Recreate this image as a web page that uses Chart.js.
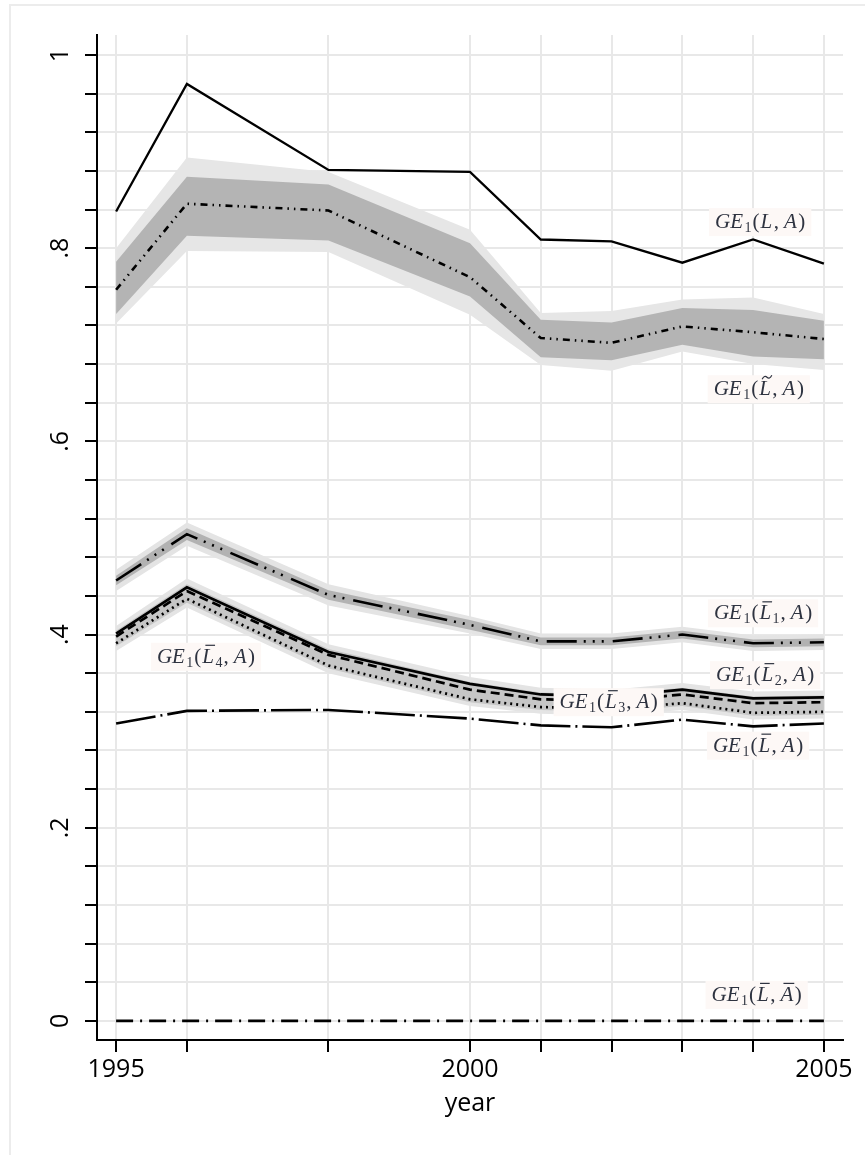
<!DOCTYPE html>
<html>
<head>
<meta charset="utf-8">
<script src="https://cdn.jsdelivr.net/npm/chart.js@4.4.1/dist/chart.umd.min.js"></script>
<style>
  html, body { margin: 0; padding: 0; background: #fff; overflow: hidden; }
  #frame { position: absolute; left: 9px; top: 4px; width: 920px; height: 1220px; border: 2px solid #ececec; box-sizing: border-box; }
  #wrap { position: absolute; left: 0; top: 0; width: 865px; height: 1155px; }
</style>
</head>
<body>
<div id="frame"></div>
<div id="wrap"><canvas id="chart"></canvas></div>
<script>
// years observed (1997 and 1999 missing)
const years = [1995, 1996, 1998, 2000, 2001, 2002, 2003, 2004, 2005]
const xLabelYears = [1995, 2000, 2005]
const yTickValues = [0, 0.04, 0.08, 0.12, 0.16, 0.2, 0.24, 0.28, 0.32, 0.36, 0.4, 0.44, 0.48,
  0.52, 0.56, 0.6, 0.64, 0.68, 0.72, 0.76, 0.8, 0.84, 0.88, 0.92, 0.96, 1]
const yLabelValues = [0, 0.2, 0.4, 0.6, 0.8, 1]
const yLabelText = ['0', '.2', '.4', '.6', '.8', '1']

// GE1(L, A)
const geLA = [0.838, 0.970, 0.881, 0.879, 0.809, 0.807, 0.785, 0.809, 0.784]

// GE1(L~, A) with two confidence bands
const geTilde = [0.757, 0.846, 0.839, 0.770, 0.707, 0.702, 0.719, 0.713, 0.706]
const tildeInnerHi = [0.786, 0.874, 0.866, 0.805, 0.726, 0.723, 0.738, 0.736, 0.725]
const tildeInnerLo = [0.732, 0.813, 0.808, 0.750, 0.687, 0.684, 0.700, 0.688, 0.685]
const tildeOuterHi = [0.800, 0.894, 0.879, 0.819, 0.733, 0.735, 0.747, 0.749, 0.732]
const tildeOuterLo = [0.722, 0.797, 0.796, 0.731, 0.679, 0.673, 0.693, 0.680, 0.674]

// GE1(L1bar, A)
const geL1 = [0.456, 0.504, 0.441, 0.410, 0.393, 0.393, 0.400, 0.391, 0.392]
const l1InnerHi = [0.461, 0.510, 0.446, 0.415, 0.397, 0.397, 0.404, 0.395, 0.396]
const l1InnerLo = [0.451, 0.498, 0.436, 0.405, 0.389, 0.389, 0.396, 0.387, 0.388]
const l1OuterHi = [0.467, 0.516, 0.452, 0.419, 0.401, 0.401, 0.408, 0.399, 0.400]
const l1OuterLo = [0.445, 0.492, 0.430, 0.401, 0.385, 0.385, 0.392, 0.383, 0.384]

// GE1(L2bar, A), GE1(L3bar, A), GE1(L4bar, A)
const geL2 = [0.401, 0.449, 0.382, 0.349, 0.338, 0.336, 0.343, 0.334, 0.335]
const geL3 = [0.398, 0.445, 0.379, 0.343, 0.333, 0.331, 0.338, 0.329, 0.330]
const geL4 = [0.391, 0.437, 0.368, 0.333, 0.325, 0.323, 0.329, 0.319, 0.320]
const groupInnerHi = [0.404, 0.452, 0.385, 0.351, 0.340, 0.338, 0.345, 0.336, 0.337]
const groupInnerLo = [0.388, 0.433, 0.365, 0.330, 0.322, 0.320, 0.326, 0.316, 0.317]
const groupOuterHi = [0.409, 0.458, 0.390, 0.356, 0.345, 0.343, 0.350, 0.341, 0.342]
const groupOuterLo = [0.383, 0.428, 0.360, 0.326, 0.318, 0.316, 0.322, 0.312, 0.313]

// GE1(Lbar, A) and GE1(Lbar, Abar)
const geLbar = [0.308, 0.321, 0.322, 0.313, 0.306, 0.304, 0.312, 0.305, 0.308]
const geLbarAbar = [0, 0, 0, 0, 0, 0, 0, 0, 0]

const pts = (vals) => vals.map((v, i) => ({ x: years[i], y: v }))

const line = (vals, dash, width) => ({
  data: pts(vals),
  borderColor: '#000',
  borderWidth: width,
  borderDash: dash,
  borderCapStyle: 'butt',
  pointRadius: 0,
  fill: false,
  tension: 0,
  order: 0
})

// upper edge fills down to the next dataset (its lower edge)
const band = (hi, lo, color, order) => [
  { data: pts(hi), borderWidth: 0, borderColor: 'rgba(0,0,0,0)', pointRadius: 0, fill: '+1', backgroundColor: color, order },
  { data: pts(lo), borderWidth: 0, borderColor: 'rgba(0,0,0,0)', pointRadius: 0, fill: false, order }
]

const datasets = [
  line(geLA, [], 2.3),
  line(geTilde, [7, 5, 1.5, 5, 1.5, 5], 2.6),
  line(geL1, [30, 7, 2, 7, 2, 7, 2, 9], 2.6),
  line(geL2, [], 2.7),
  line(geL3, [9, 5], 2.7),
  line(geL4, [2, 4], 2.7),
  line(geLbar, [40, 5, 2, 5], 2.6),
  line(geLbarAbar, [17, 7, 2, 7], 2.8),
  ...band(tildeInnerHi, tildeInnerLo, '#b4b4b4', 1),
  ...band(l1InnerHi, l1InnerLo, '#b2b2b2', 1),
  ...band(groupInnerHi, groupInnerLo, '#c6c6c6', 1),
  ...band(tildeOuterHi, tildeOuterLo, '#e6e6e6', 2),
  ...band(l1OuterHi, l1OuterLo, '#e4e4e4', 2),
  ...band(groupOuterHi, groupOuterLo, '#e4e4e4', 2)
]

// series labels, placed in data coordinates
const notes = [
  { x: 2004.10, y: 0.827, mark: '', sub: '', abar: false },
  { x: 2004.08, y: 0.654, mark: 'tilde', sub: '', abar: false },
  { x: 2004.14, y: 0.422, mark: 'bar', sub: '1', abar: false },
  { x: 2004.17, y: 0.358, mark: 'bar', sub: '2', abar: false },
  { x: 2001.96, y: 0.330, mark: 'bar', sub: '3', abar: false },
  { x: 1996.27, y: 0.377, mark: 'bar', sub: '4', abar: false },
  { x: 2004.07, y: 0.285, mark: 'bar', sub: '', abar: false },
  { x: 2004.05, y: 0.027, mark: 'bar', sub: '', abar: true }
]

const IT = 'italic 21px "Liberation Serif"'
const RM = '21px "Liberation Serif"'
const SUB = '14px "Liberation Serif"'

const drawNote = (ctx, cx, cy, n) => {
  const pieces = [
    { t: 'GE', f: IT, dx: 1.5 },
    { t: '1', f: SUB, dy: 4, dx: 1 },
    { t: '(', f: RM, dx: 1 },
    { t: 'L', f: IT, mark: n.mark, dx: 1.5 }
  ]
  if (n.sub) pieces.push({ t: n.sub, f: SUB, dy: 4, dx: 1 })
  pieces.push({ t: ',', f: RM, dx: 5 }, { t: 'A', f: IT, mark: n.abar ? 'bar' : '', dx: 1.5 }, { t: ')', f: RM, dx: 0 })
  let total = 0
  pieces.forEach((p) => {
    ctx.font = p.f
    p.w = ctx.measureText(p.t).width
    total += p.w + p.dx
  })
  ctx.fillStyle = '#fdf8f6'
  ctx.fillRect(cx - total / 2 - 6, cy - 14, total + 12, 28)
  const base = cy + 6
  let x = cx - total / 2
  ctx.fillStyle = '#2e3340'
  ctx.strokeStyle = '#2e3340'
  ctx.textBaseline = 'alphabetic'
  ctx.textAlign = 'left'
  pieces.forEach((p) => {
    ctx.font = p.f
    ctx.fillText(p.t, x, base + (p.dy || 0))
    if (p.mark === 'bar') {
      ctx.lineWidth = 1.2
      ctx.beginPath()
      ctx.moveTo(x + 3, base - 17.5)
      ctx.lineTo(x + p.w + 1, base - 17.5)
      ctx.stroke()
    } else if (p.mark === 'tilde') {
      ctx.lineWidth = 1.2
      ctx.beginPath()
      const x0 = x + 3
      const x1 = x + p.w + 1
      const m = (x0 + x1) / 2
      ctx.moveTo(x0, base - 16)
      ctx.quadraticCurveTo((x0 + m) / 2, base - 20.5, m, base - 18)
      ctx.quadraticCurveTo((m + x1) / 2, base - 15.5, x1, base - 20)
      ctx.stroke()
    }
    x += p.w + p.dx
  })
}

const notesPlugin = {
  id: 'notes',
  afterDatasetsDraw (chart) {
    const { ctx, scales } = chart
    ctx.save()
    notes.forEach((n) => drawNote(ctx, scales.x.getPixelForValue(n.x), scales.y.getPixelForValue(n.y), n))
    ctx.restore()
  }
}

const gridOpts = { color: '#e8e8e8', lineWidth: 2, tickColor: '#000', tickLength: 12, tickWidth: 2 }
const tickFont = { family: 'Open Sans', size: 25 }

new Chart(document.getElementById('chart').getContext('2d'), {
  type: 'line',
  data: { datasets },
  plugins: [notesPlugin],
  options: {
    responsive: true,
    maintainAspectRatio: false,
    animation: false,
    layout: { padding: { left: 0, top: 35, right: 22, bottom: 0 } },
    plugins: { legend: { display: false }, tooltip: { enabled: false } },
    scales: {
      x: {
        type: 'linear',
        min: 1994.73,
        max: 2005.27,
        afterBuildTicks: (s) => { s.ticks = years.map((v) => ({ value: v })) },
        afterFit: (s) => { s.height = 115 },
        grid: gridOpts,
        border: { color: '#000', width: 2 },
        ticks: {
          autoSkip: false,
          maxRotation: 0,
          color: '#000',
          font: tickFont,
          padding: 3,
          callback: (v) => (xLabelYears.includes(v) ? String(v) : '')
        },
        title: { display: true, text: 'year', color: '#000', font: tickFont, padding: { top: 0, bottom: 36 } }
      },
      y: {
        type: 'linear',
        min: -0.0197,
        max: 1.0207,
        afterBuildTicks: (s) => { s.ticks = yTickValues.map((v) => ({ value: v })) },
        afterFit: (s) => { s.width = 97 },
        grid: gridOpts,
        border: { color: '#000', width: 2 },
        ticks: {
          autoSkip: false,
          minRotation: 90,
          maxRotation: 90,
          crossAlign: 'center',
          padding: 14,
          color: '#000',
          font: tickFont,
          callback: (v) => {
            const k = yLabelValues.findIndex((u) => Math.abs(u - v) < 1e-6)
            return k >= 0 ? yLabelText[k] : ''
          }
        }
      }
    }
  }
})
</script>
</body>
</html>
